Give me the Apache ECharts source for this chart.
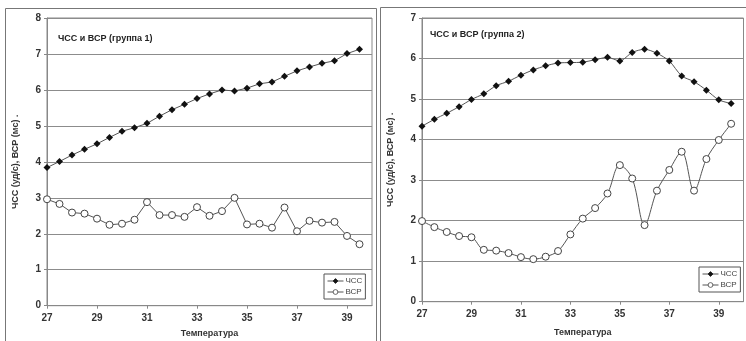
<!DOCTYPE html>
<html>
<head>
<meta charset="utf-8">
<script src="https://cdn.jsdelivr.net/npm/echarts@6/dist/echarts.min.js"></script>
<style>html,body{margin:0;padding:0;background:#fff}#c{width:746px;height:341px}</style>
</head>
<body>
<div id="c"></div>
<script>
const temps = [27,27.5,28,28.5,29,29.5,30,30.5,31,31.5,32,32.5,33,33.5,34,34.5,35,35.5,36,36.5,37,37.5,38,38.5,39,39.5];
const xTickLabels = [27,29,31,33,35,37,39];
const hr1 = [3.84,4.01,4.19,4.35,4.50,4.68,4.85,4.95,5.07,5.27,5.45,5.60,5.76,5.89,6.00,5.97,6.05,6.17,6.22,6.38,6.53,6.64,6.74,6.81,7.01,7.13];
const hrv1 = [2.96,2.83,2.59,2.56,2.42,2.25,2.28,2.39,2.88,2.52,2.52,2.47,2.74,2.50,2.63,3.00,2.26,2.28,2.17,2.73,2.07,2.36,2.31,2.33,1.94,1.71];
const hr2 = [4.33,4.50,4.65,4.81,4.99,5.13,5.33,5.44,5.59,5.72,5.82,5.89,5.90,5.91,5.97,6.03,5.94,6.15,6.23,6.13,5.94,5.57,5.43,5.22,4.98,4.89];
const hrv2 = [1.99,1.84,1.72,1.62,1.59,1.28,1.26,1.20,1.10,1.05,1.11,1.25,1.66,2.05,2.31,2.67,3.37,3.04,1.89,2.74,3.25,3.70,2.74,3.52,3.99,4.39];
const titles = ['ЧСС и ВСР (группа 1)', 'ЧСС и ВСР (группа 2)'];
const seriesNames = ['ЧСС', 'ВСР'];
const yName = 'ЧСС (уд/с), ВСР (мс) .';
const xName = 'Температура';
const yMax = [8, 7];

const pairs = v => temps.map((t, i) => [t, v[i]]);
const FONT = 'Arial, "Liberation Sans", sans-serif';
const lineColor = '#555';

function xAxis(gi, nameGap) {
  return {
    type: 'value', gridIndex: gi, min: 27, max: 40,
    name: xName, nameLocation: 'middle', nameGap: nameGap,
    nameTextStyle: {fontFamily: FONT, fontSize: 9, fontWeight: 'bold', color: '#333'},
    axisLine: {lineStyle: {color: '#888', width: 1}},
    axisTick: {show: true, length: 3, lineStyle: {color: '#888'}, customValues: xTickLabels},
    axisLabel: {customValues: xTickLabels, fontFamily: FONT, fontSize: 10, fontWeight: 'bold', color: '#333', margin: 8},
    splitLine: {show: false}
  };
}
function yAxis(gi) {
  return {
    type: 'value', gridIndex: gi, min: 0, max: yMax[gi], interval: 1,
    name: yName, nameLocation: 'middle', nameGap: 27, nameRotate: 90,
    nameTextStyle: {fontFamily: FONT, fontSize: 9, fontWeight: 'bold', color: '#333'},
    axisLine: {show: true, lineStyle: {color: '#888', width: 1}},
    axisTick: {show: true, length: 3, lineStyle: {color: '#888'}},
    axisLabel: {fontFamily: FONT, fontSize: 10, fontWeight: 'bold', color: '#333', margin: 6},
    splitLine: {show: true, lineStyle: {color: '#8c8c8c', width: 1}}
  };
}
function hrSeries(gi, data, smooth) {
  return {
    name: seriesNames[0], type: 'line', xAxisIndex: gi, yAxisIndex: gi,
    data: pairs(data), smooth: smooth, symbol: 'diamond', symbolSize: 7,
    lineStyle: {color: lineColor, width: 1},
    itemStyle: {color: '#111', borderColor: '#111', borderWidth: 0},
    z: 3
  };
}
function hrvSeries(gi, data, smooth) {
  return {
    name: seriesNames[1], type: 'line', xAxisIndex: gi, yAxisIndex: gi,
    data: pairs(data), smooth: smooth, symbol: 'circle', symbolSize: 7,
    lineStyle: {color: lineColor, width: 1},
    itemStyle: {color: '#fff', borderColor: '#444', borderWidth: 1},
    z: 2
  };
}
function legend(left, top) {
  return {
    data: seriesNames, orient: 'vertical', left: left, top: top,
    itemWidth: 16, itemHeight: 6, itemGap: 3,
    padding: [3, 3, 3, 3],
    borderColor: '#555', borderWidth: 1, backgroundColor: '#fff',
    itemStyle: {borderWidth: 0.8},
    lineStyle: {width: 1},
    textStyle: {fontFamily: FONT, fontSize: 8, color: '#444', padding: [0, 0, 0, -3]},
    selectedMode: false
  };
}

const chart = echarts.init(document.getElementById('c'), null, {renderer: 'canvas'});
chart.setOption({
  animation: false,
  backgroundColor: '#fff',
  graphic: [
    {type: 'rect', shape: {x: 5.5, y: 8.5, width: 371, height: 340}, style: {fill: 'none', stroke: '#777', lineWidth: 1}, z: -1},
    {type: 'rect', shape: {x: 380.5, y: 7.5, width: 370, height: 340}, style: {fill: 'none', stroke: '#777', lineWidth: 1}, z: -1}
  ],
  title: [
    {text: titles[0], left: 53, top: 29, textStyle: {fontFamily: FONT, fontSize: 9, fontWeight: 'bold', color: '#222'}},
    {text: titles[1], left: 425, top: 25, textStyle: {fontFamily: FONT, fontSize: 9, fontWeight: 'bold', color: '#222'}}
  ],
  grid: [
    {left: 47, top: 18, width: 325, height: 287.7, show: true, borderColor: '#888', borderWidth: 1, backgroundColor: 'transparent', containLabel: false, outerBoundsMode: 'none'},
    {left: 422, top: 18, width: 321.5, height: 283.7, show: true, borderColor: '#888', borderWidth: 1, backgroundColor: 'transparent', containLabel: false, outerBoundsMode: 'none'}
  ],
  xAxis: [xAxis(0, 23), xAxis(1, 26)],
  yAxis: [yAxis(0), yAxis(1)],
  legend: [legend(324, 274), legend(699, 267)],
  series: [
    hrSeries(0, hr1, false),
    hrvSeries(0, hrv1, false),
    hrSeries(1, hr2, 0.25),
    hrvSeries(1, hrv2, 0.35)
  ]
});
</script>
</body>
</html>
